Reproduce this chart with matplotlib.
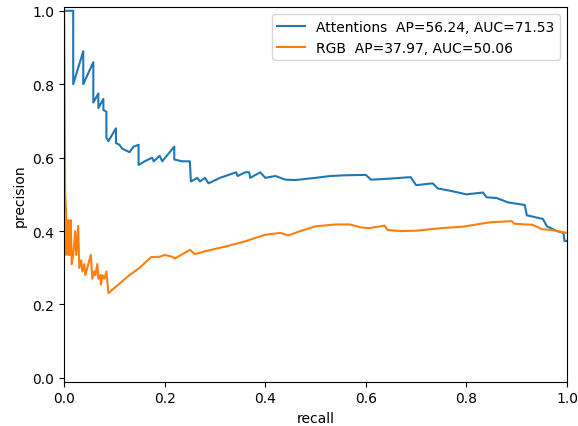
import numpy as np
import matplotlib
matplotlib.use('Agg')
import matplotlib.pyplot as plt

# precision-recall points
att_recall = [0.0, 0.018, 0.018, 0.038, 0.038, 0.058, 0.058, 0.068, 0.068, 0.078, 0.078, 0.084,
              0.084, 0.088, 0.103, 0.103, 0.110, 0.115, 0.122, 0.130, 0.138, 0.148, 0.148, 0.160,
              0.175, 0.178, 0.190, 0.195, 0.219, 0.219, 0.235, 0.250, 0.252, 0.265, 0.270, 0.280,
              0.287, 0.310, 0.342, 0.345, 0.360, 0.368, 0.370, 0.390, 0.400, 0.420, 0.440, 0.460,
              0.500, 0.530, 0.560, 0.600, 0.610, 0.650, 0.689, 0.700, 0.733, 0.743, 0.767, 0.800,
              0.833, 0.840, 0.860, 0.883, 0.916, 0.920, 0.952, 0.960, 0.980, 0.993, 0.995, 1.0]
att_precision = [1.0, 1.0, 0.80, 0.89, 0.80, 0.86, 0.75, 0.775, 0.735, 0.76, 0.73, 0.725,
                 0.655, 0.645, 0.68, 0.64, 0.635, 0.625, 0.62, 0.615, 0.63, 0.635, 0.58, 0.59,
                 0.60, 0.59, 0.605, 0.59, 0.63, 0.595, 0.59, 0.59, 0.535, 0.545, 0.535, 0.545,
                 0.53, 0.545, 0.56, 0.55, 0.56, 0.56, 0.545, 0.56, 0.545, 0.55, 0.54, 0.539,
                 0.545, 0.55, 0.552, 0.553, 0.54, 0.543, 0.547, 0.525, 0.53, 0.516, 0.51, 0.50,
                 0.505, 0.492, 0.49, 0.478, 0.471, 0.443, 0.433, 0.413, 0.40, 0.395, 0.373, 0.373]

rgb_recall = [0.0, 0.002, 0.004, 0.004, 0.008, 0.008, 0.011, 0.013, 0.015, 0.018, 0.022, 0.024,
              0.028, 0.030, 0.034, 0.036, 0.040, 0.042, 0.046, 0.053, 0.056, 0.060, 0.062, 0.066,
              0.068, 0.072, 0.073, 0.076, 0.080, 0.084, 0.088, 0.100, 0.130, 0.150, 0.173, 0.190,
              0.200, 0.215, 0.220, 0.250, 0.260, 0.280, 0.315, 0.355, 0.400, 0.430, 0.445, 0.470,
              0.500, 0.540, 0.568, 0.590, 0.607, 0.637, 0.643, 0.670, 0.700, 0.750, 0.793, 0.847,
              0.890, 0.895, 0.932, 0.950, 0.970, 0.992, 1.0]
rgb_precision = [1.0, 0.5, 0.45, 0.335, 0.43, 0.335, 0.335, 0.43, 0.31, 0.335, 0.40, 0.335,
                 0.414, 0.30, 0.32, 0.29, 0.31, 0.28, 0.30, 0.335, 0.27, 0.29, 0.28, 0.31,
                 0.27, 0.28, 0.254, 0.28, 0.27, 0.29, 0.231, 0.245, 0.28, 0.30, 0.329, 0.33,
                 0.335, 0.33, 0.325, 0.349, 0.337, 0.345, 0.356, 0.37, 0.39, 0.395, 0.388, 0.40,
                 0.413, 0.418, 0.418, 0.41, 0.408, 0.415, 0.403, 0.40, 0.401, 0.408, 0.412, 0.424,
                 0.427, 0.42, 0.417, 0.405, 0.403, 0.397, 0.395]

att_label = 'Attentions  AP=56.24, AUC=71.53'
rgb_label = 'RGB  AP=37.97, AUC=50.06'

fig = plt.figure(figsize=(5.78, 4.27), dpi=100)
ax = fig.add_axes([0.111, 0.104, 0.870, 0.877])

ax.plot(att_recall, att_precision, color='#1f77b4', linewidth=1.5, label=att_label)
ax.plot(rgb_recall, rgb_precision, color='#ff7f0e', linewidth=1.5, label=rgb_label)

ax.set_xlim(0.0, 1.0)
ax.set_ylim(-0.01, 1.01)
ax.set_xticks(np.arange(0, 1.01, 0.2))
ax.set_yticks(np.arange(0, 1.01, 0.2))
ax.set_xlabel('recall')
ax.set_ylabel('precision')
ax.legend(loc='upper right')

fig.savefig('out.png', dpi=100)
